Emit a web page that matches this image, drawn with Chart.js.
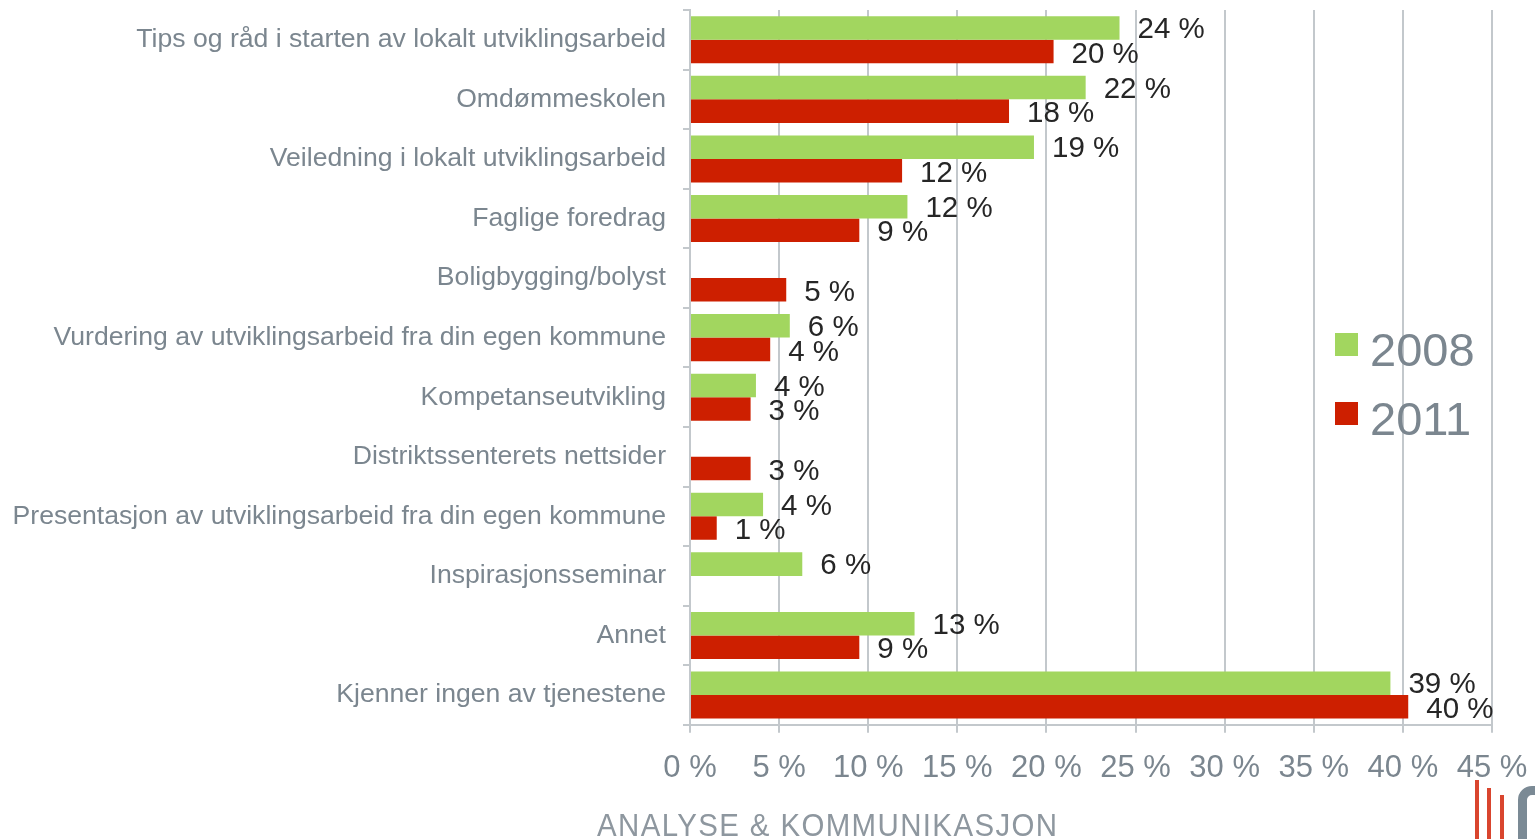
<!DOCTYPE html>
<html>
<head>
<meta charset="utf-8">
<script src="https://cdn.jsdelivr.net/npm/chart.js@4.4.1/dist/chart.umd.min.js"></script>
<style>
  html, body { margin: 0; padding: 0; background: #fff; overflow: hidden; }
  #wrap { position: relative; width: 1535px; height: 839px; overflow: hidden; }
  #chart { position: absolute; left: 0; top: 0; }
  #legend { position: absolute; left: 1335px; top: 315px; font-family: "Liberation Sans", Arial, sans-serif; font-size: 47px; color: #7b868f; }
  #legend div { height: 69px; line-height: 69px; white-space: nowrap; }
  #legend span.box { display: inline-block; width: 23px; height: 23px; margin-right: 12px; vertical-align: middle; position: relative; top: -9px; }
  #footer { position: absolute; left: 597px; top: 809px; font-family: "Liberation Sans", Arial, sans-serif; font-size: 32px; line-height: 32px; letter-spacing: 1.5px; color: #8e979f; white-space: nowrap; transform: scaleX(0.92); transform-origin: left top; }
  .bar { position: absolute; width: 4px; background: #d9452e; bottom: 0; }
  #logoC { position: absolute; left: 1518px; top: 786px; width: 40px; height: 70px; border: 9px solid #7b8a95; border-radius: 14px; box-sizing: border-box; }
</style>
</head>
<body>
<div id="wrap">
  <canvas id="chart" width="1535" height="839"></canvas>
  <div id="legend">
    <div><span class="box" style="background:#a2d65f"></span>2008</div>
    <div><span class="box" style="background:#cd1f00"></span>2011</div>
  </div>
  <div id="footer">ANALYSE &amp; KOMMUNIKASJON</div>
  <div class="bar" style="left:1475px; top:780px"></div>
  <div class="bar" style="left:1487px; top:788px"></div>
  <div class="bar" style="left:1500px; top:795px"></div>
  <div id="logoC"></div>
</div>
<script>
const categories = [
  'Tips og råd i starten av lokalt utviklingsarbeid',
  'Omdømmeskolen',
  'Veiledning i lokalt utviklingsarbeid',
  'Faglige foredrag',
  'Boligbygging/bolyst',
  'Vurdering av utviklingsarbeid fra din egen kommune',
  'Kompetanseutvikling',
  'Distriktssenterets nettsider',
  'Presentasjon av utviklingsarbeid fra din egen kommune',
  'Inspirasjonsseminar',
  'Annet',
  'Kjenner ingen av tjenestene'
];

const values2008 = [24.1, 22.2, 19.3, 12.2, null, 5.6, 3.7, null, 4.1, 6.3, 12.6, 39.3];
const values2011 = [20.4, 17.9, 11.9, 9.5, 5.4, 4.5, 3.4, 3.4, 1.5, null, 9.5, 40.3];
const labels2008 = ['24 %', '22 %', '19 %', '12 %', '', '6 %', '4 %', '', '4 %', '6 %', '13 %', '39 %'];
const labels2011 = ['20 %', '18 %', '12 %', '9 %', '5 %', '4 %', '3 %', '3 %', '1 %', '', '9 %', '40 %'];

const xTicks = [0, 5, 10, 15, 20, 25, 30, 35, 40, 45];

const gridColor = '#c3c8cc';
const textGray = '#7b868f';

// value labels drawn next to the bar ends
const valueLabels = {
  id: 'valueLabels',
  afterDatasetsDraw(chart) {
    const ctx = chart.ctx;
    const texts = [labels2008, labels2011];
    ctx.save();
    ctx.font = '29.5px "Liberation Sans", Arial, sans-serif';
    ctx.fillStyle = '#262626';
    ctx.textBaseline = 'middle';
    ctx.textAlign = 'left';
    chart.data.datasets.forEach((ds, di) => {
      const meta = chart.getDatasetMeta(di);
      meta.data.forEach((bar, i) => {
        if (ds.data[i] == null) return;
        const dy = di === 0 ? 2 : 3;
        ctx.fillText(texts[di][i], bar.x + 18, bar.y + dy);
      });
    });
    ctx.restore();
  }
};

new Chart(document.getElementById('chart'), {
  type: 'bar',
  data: {
    labels: categories,
    datasets: [
      { label: '2008', data: values2008, backgroundColor: '#a2d65f', borderWidth: 0 },
      { label: '2011', data: values2011, backgroundColor: '#cd1f00', borderWidth: 0 }
    ]
  },
  options: {
    indexAxis: 'y',
    responsive: false,
    animation: false,
    layout: { padding: { top: 10, right: 43, bottom: 35, left: 0 } },
    categoryPercentage: 0.79,
    barPercentage: 1.0,
    plugins: {
      legend: { display: false },
      tooltip: { enabled: false }
    },
    scales: {
      x: {
        min: 0,
        max: 45,
        afterBuildTicks(scale) {
          scale.ticks = xTicks.map(v => ({ value: v }));
        },
        afterFit(scale) { scale.paddingLeft = 0; scale.paddingRight = 0; },
        ticks: {
          padding: 17,
          color: textGray,
          font: { family: '"Liberation Sans", Arial, sans-serif', size: 31 },
          callback: v => v + ' %',
          maxRotation: 0
        },
        grid: { color: gridColor, lineWidth: 2, tickLength: 8 },
        border: { color: gridColor, width: 2 }
      },
      y: {
        afterFit(scale) { scale.width = 690; scale.paddingTop = 0; scale.paddingBottom = 0; },
        ticks: {
          padding: 17,
          color: textGray,
          font: { family: '"Liberation Sans", Arial, sans-serif', size: 26.6 }
        },
        grid: { drawOnChartArea: false, color: gridColor, lineWidth: 2, tickLength: 7, offset: true },
        border: { color: gridColor, width: 2 }
      }
    }
  },
  plugins: [valueLabels]
});
</script>
</body>
</html>
